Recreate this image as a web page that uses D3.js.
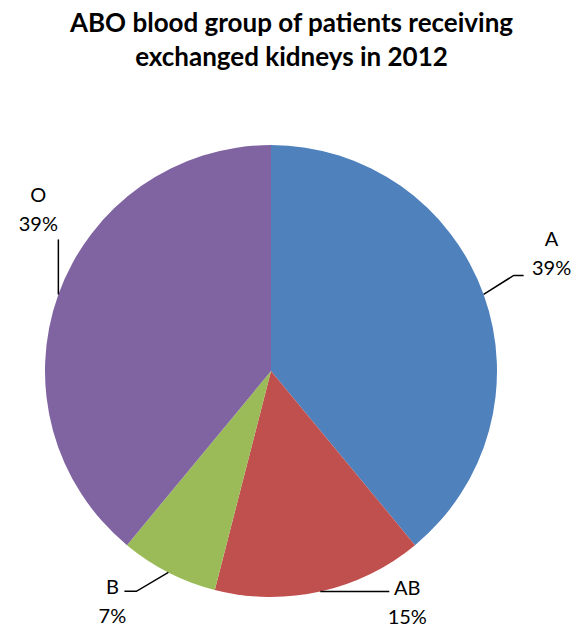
<!DOCTYPE html>
<html><head><meta charset="utf-8">
<script src="https://cdn.jsdelivr.net/npm/d3@7"></script>
<style>body{margin:0;background:#fff}svg{display:block}</style>
</head><body><svg id="c" width="583" height="628"></svg>
<script>
const categories = ["A", "AB", "B", "O"];
const values = [39, 15, 7, 39];
const colors = ["#4F81BD", "#C0504D", "#9BBB59", "#8064A2"];
const titleLines = ["ABO blood group of patients receiving", "exchanged kidneys in 2012"];

const svg = d3.select("#c");
const font = "Lato, 'Open Sans', sans-serif";
svg.append("rect").attr("width",583).attr("height",628).attr("fill","#fff");

svg.selectAll("text.title").data(titleLines).join("text")
  .attr("x", 291.5).attr("y", (d,i)=>32+i*34)
  .attr("text-anchor","middle").attr("font-family",font).attr("font-weight","bold")
  .attr("font-size",26).attr("fill","#000").text(d=>d);

const cx = 271, cy = 371, r = 226;
const data = categories.map((c,i)=>({cat:c, v:values[i], color:colors[i]}));
const pie = d3.pie().value(d=>d.v).sort(null);
const arcs = pie(data);
const arc = d3.arc().innerRadius(0).outerRadius(r);
const g = svg.append("g").attr("transform",`translate(${cx},${cy})`);
g.selectAll("path").data(arcs).join("path")
  .attr("d",arc).attr("fill",d=>d.data.color);

// label layout: elbow offsets and text positions relative to the anchor on the rim
const layout = {
  "A":  {elbow:[30,-19], end:[40,-19], tx:[68,-48]},
  "AB": {elbow:[60,0], end:[69,0], tx:[87,3]},
  "B":  {elbow:[-32,19], end:[-44,19], tx:[-56,22]},
  "O":  {elbow:[0,-55], end:[0,-55], tx:[-20,-92]}
};
const lineGap = 29;
arcs.forEach(a=>{
  const mid = (a.startAngle+a.endAngle)/2;
  const ax = Math.sin(mid)*r, ay = -Math.cos(mid)*r;
  const L = layout[a.data.cat];
  g.append("polyline")
    .attr("points",[[ax,ay],[ax+L.elbow[0],ay+L.elbow[1]],[ax+L.end[0],ay+L.end[1]]].map(p=>p.join(",")).join(" "))
    .attr("fill","none").attr("stroke","#000").attr("stroke-width",1.5);
  const t = g.append("text").attr("font-family",font).attr("font-size",20).attr("fill","#000")
    .attr("text-anchor","middle");
  t.append("tspan").attr("x",ax+L.tx[0]).attr("y",ay+L.tx[1]).text(a.data.cat);
  t.append("tspan").attr("x",ax+L.tx[0]).attr("y",ay+L.tx[1]+lineGap).text(Math.round(a.data.v)+"%");
});
</script></body></html>
